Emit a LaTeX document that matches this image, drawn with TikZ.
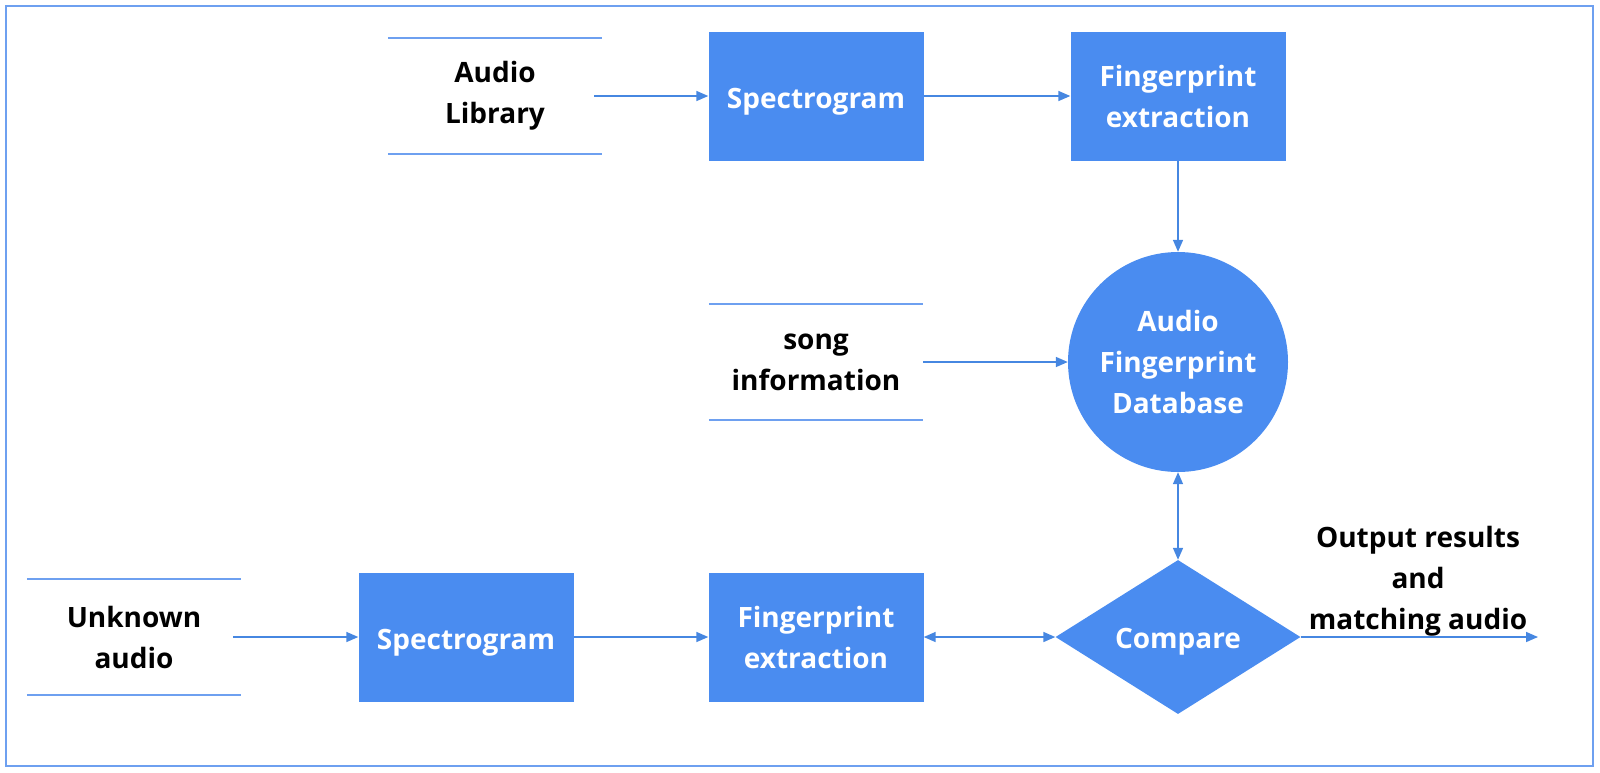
\documentclass[tikz,border=0pt]{standalone}
\usepackage{fontspec}
\setmainfont{Open Sans}
\usetikzlibrary{shapes.geometric,arrows.meta}
\definecolor{boxblue}{RGB}{74,140,240}
\definecolor{lineblue}{RGB}{70,135,225}
\definecolor{rule}{RGB}{110,160,240}
\tikzset{
  x=1pt,y=-1pt,
  txt/.style={font=\fontsize{28}{41}\selectfont\bfseries, align=center},
  procbox/.style={txt, fill=boxblue, text=white, minimum width=215pt, minimum height=129pt, inner sep=0pt},
  oneline/.style={text height=#1, text depth=0pt},
  dbcircle/.style={txt, circle, fill=boxblue, text=white, minimum size=220pt, inner sep=0pt},
  decide/.style={txt, diamond, fill=boxblue, text=white, minimum width=245pt, minimum height=154pt, inner sep=0pt, aspect=1.6},
  store/.style={txt, minimum width=214pt, minimum height=115pt, inner sep=0pt},
  storeline/.style={rule, line width=2pt},
  conn/.style={lineblue, line width=1.6pt, -{Triangle[length=12pt,width=10pt]}},
  biconn/.style={lineblue, line width=1.6pt, {Triangle[length=12pt,width=10pt]}-{Triangle[length=12pt,width=10pt]}}
}
\begin{document}
\begin{tikzpicture}
\useasboundingbox (0,0) rectangle (1600,772);
\draw[rule, line width=1.5pt] (6,6) rectangle (1593,766);

% stores
\node[store] (lib) at (495,96) {Audio\\Library};
\draw[storeline] (lib.north west) -- (lib.north east);
\draw[storeline] (lib.south west) -- (lib.south east);

\node[store] (song) at (816,362) {song\\information};
\draw[storeline] (song.north west) -- (song.north east);
\draw[storeline] (song.south west) -- (song.south east);

\node[store] (unk) at (134,637) {Unknown\\audio};
\draw[storeline] (unk.north west) -- (unk.north east);
\draw[storeline] (unk.south west) -- (unk.south east);

% process boxes
\node[procbox, oneline=25pt] (spec1) at (816,96) {Spectrogram};
\node[procbox] (fp1) at (1178,96) {Fingerprint\\extraction};
\node[dbcircle] (db) at (1178,362) {Audio\\Fingerprint\\Database};
\node[procbox, oneline=25pt] (spec2) at (466,637) {Spectrogram};
\node[procbox] (fp2) at (816,637) {Fingerprint\\extraction};
\node[decide, oneline=22pt] (cmp) at (1178,637) {Compare};

\coordinate (out) at (1538,637);
\node[txt, anchor=south] (outlbl) at (1418,640) {Output results\\and\\matching audio};

% connectors
\draw[conn] ([xshift=-8pt]lib.east) -- (spec1.west);
\draw[conn] (spec1.east) -- (fp1.west);
\draw[conn] (fp1.south) -- (db.north);
\draw[conn] (song.east) -- (db.west);
\draw[biconn] (db.south) -- (cmp.north);
\draw[conn] ([xshift=-8pt]unk.east) -- (spec2.west);
\draw[conn] (spec2.east) -- (fp2.west);
\draw[biconn] (fp2.east) -- (cmp.west);
\draw[conn] (cmp.east) -- (out);
\end{tikzpicture}
\end{document}
